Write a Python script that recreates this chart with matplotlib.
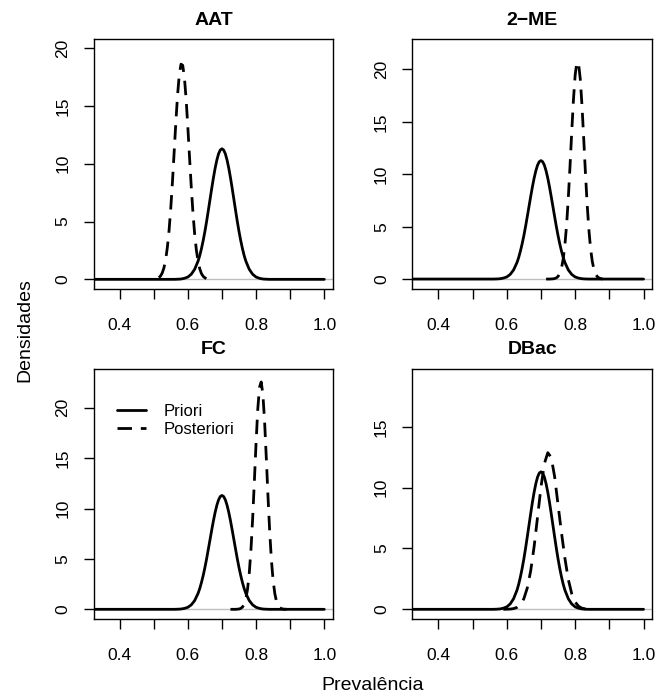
import matplotlib
matplotlib.use('Agg')
import matplotlib.pyplot as plt

plt.rcParams['font.family'] = ['Liberation Sans', 'DejaVu Sans']

# === Data ===

titles = ['AAT', '2\u2212ME', 'FC', 'DBac']

# prior density (same in every panel)
prior_x = [0.30, 0.40, 0.50, 0.55, 0.56, 0.57, 0.58, 0.59, 0.60, 0.61, 0.62, 0.63,
           0.635, 0.64, 0.645, 0.65, 0.655, 0.66, 0.665, 0.67, 0.675, 0.68, 0.685,
           0.69, 0.695, 0.70, 0.705, 0.71, 0.715, 0.72, 0.725, 0.73, 0.735, 0.74,
           0.745, 0.75, 0.755, 0.76, 0.765, 0.77, 0.78, 0.79, 0.80, 0.81, 0.82,
           0.83, 0.84, 0.85, 0.90, 1.00]
prior_y = [0.00, 0.00, 0.00, 0.00, 0.00, 0.01, 0.03, 0.09, 0.20, 0.44, 0.87, 1.58,
           2.07, 2.67, 3.36, 4.14, 5.01, 5.95, 6.91, 7.87, 8.79, 9.62, 10.32,
           10.86, 11.19, 11.30, 11.19, 10.86, 10.32, 9.62, 8.79, 7.87, 6.91, 5.95,
           5.01, 4.14, 3.36, 2.67, 2.07, 1.58, 0.87, 0.44, 0.20, 0.09, 0.03,
           0.01, 0.00, 0.00, 0.00, 0.00]

# posterior densities
aat_x = [0.515, 0.520, 0.525, 0.530, 0.535, 0.540, 0.545, 0.550, 0.555, 0.560,
         0.565, 0.570, 0.575, 0.580, 0.585, 0.590, 0.595, 0.600, 0.605, 0.610,
         0.615, 0.620, 0.625, 0.630, 0.635, 0.640, 0.645, 0.650, 0.655, 0.660,
         0.665, 0.670]
aat_y = [0.15, 0.29, 0.56, 1.00, 1.71, 2.78, 4.25, 6.18, 8.50, 11.08,
         13.68, 16.00, 17.74, 18.62, 18.52, 17.45, 15.58, 13.17, 10.55, 8.01,
         5.76, 3.92, 2.53, 1.55, 0.90, 0.49, 0.26, 0.13, 0.06, 0.02,
         0.01, 0.00]

me_x = [0.715, 0.725, 0.735, 0.740, 0.745, 0.750, 0.755, 0.760, 0.765, 0.770,
        0.775, 0.780, 0.785, 0.790, 0.795, 0.800, 0.805, 0.810, 0.815, 0.820,
        0.825, 0.830, 0.835, 0.840, 0.845, 0.850, 0.855, 0.860, 0.865, 0.870,
        0.875, 0.880]
me_y = [0.00, 0.00, 0.02, 0.05, 0.11, 0.25, 0.53, 1.04, 1.90, 3.25,
        5.19, 7.74, 10.79, 14.05, 17.11, 19.46, 20.69, 20.55, 19.07, 16.54,
        13.40, 10.15, 7.18, 4.75, 2.93, 1.69, 0.91, 0.46, 0.22, 0.10,
        0.04, 0.00]

fc_x = [0.725, 0.740, 0.750, 0.755, 0.760, 0.765, 0.770, 0.775, 0.780, 0.785,
        0.790, 0.795, 0.800, 0.805, 0.810, 0.815, 0.820, 0.825, 0.830, 0.835,
        0.840, 0.845, 0.850, 0.855, 0.860, 0.865, 0.870, 0.875, 0.880, 0.890]
fc_y = [0.00, 0.00, 0.03, 0.09, 0.22, 0.49, 1.03, 2.00, 3.57, 5.91,
        9.02, 12.70, 16.53, 19.86, 22.03, 22.56, 21.34, 18.63, 15.02, 11.18,
        7.68, 4.87, 2.86, 1.55, 0.77, 0.36, 0.15, 0.06, 0.02, 0.00]

dbac_x = [0.59, 0.60, 0.61, 0.62, 0.63, 0.64, 0.65, 0.66, 0.67, 0.68, 0.69,
          0.70, 0.71, 0.72, 0.73, 0.74, 0.75, 0.76, 0.77, 0.78, 0.79, 0.80,
          0.81, 0.82, 0.83]
dbac_y = [0.00, 0.01, 0.02, 0.06, 0.16, 0.39, 0.87, 1.75, 3.16, 5.15, 7.57,
          10.03, 11.97, 12.87, 12.48, 10.90, 8.58, 6.30, 4.20, 2.45, 1.28, 0.60,
          0.25, 0.09, 0.03]

post_x = [aat_x, me_x, fc_x, dbac_x]
post_y = [aat_y, me_y, fc_y, dbac_y]

y_ticks = [[0, 5, 10, 15, 20], [0, 5, 10, 15, 20], [0, 5, 10, 15, 20], [0, 5, 10, 15]]
y_lims = [(-0.81, 20.8), (-0.92, 22.9), (-0.93, 23.85), (-0.77, 19.75)]

x_ticks = [0.4, 0.5, 0.6, 0.7, 0.8, 0.9, 1.0]
x_ticklabels = ['0.4', '', '0.6', '', '0.8', '', '1.0']

# === Figure ===

fig = plt.figure(figsize=(6.57, 6.95), dpi=100)

# panel boxes in figure fractions (left, bottom, width, height)
boxes = [(0.1426, 0.5846, 0.3645, 0.3593), (0.6276, 0.5846, 0.3655, 0.3593),
         (0.1426, 0.1098, 0.3645, 0.3593), (0.6276, 0.1098, 0.3655, 0.3593)]

dash = (5.2, 3.2)

for i in range(4):
    ax = fig.add_axes(boxes[i])
    ax.axhline(0, color='#BEBEBE', lw=1.0, zorder=1)
    ax.plot(prior_x, prior_y, color='black', lw=2.0, zorder=3,
            solid_capstyle='round', label='Priori')
    ax.plot(post_x[i], post_y[i], color='black', lw=2.0, zorder=3,
            dashes=dash, label='Posteriori')

    ax.set_xlim(0.324, 1.026)
    ax.set_ylim(*y_lims[i])
    ax.set_xticks(x_ticks)
    ax.set_xticklabels(x_ticklabels)
    ax.set_yticks(y_ticks[i])
    ax.set_yticklabels([str(v) for v in y_ticks[i]])
    plt.setp(ax.get_yticklabels(), rotation=90, va='center')

    ax.tick_params(direction='out', length=7.3, width=1.0, labelsize=12.5)
    ax.tick_params(axis='x', pad=13.5)
    ax.tick_params(axis='y', pad=9.5)
    for sp in ax.spines.values():
        sp.set_linewidth(1.0)

    ax.text(0.5, 1.076, titles[i], transform=ax.transAxes, ha='center',
            va='center', fontsize=14, fontweight='bold')

    if i == 2:
        ax.legend(loc='upper left', bbox_to_anchor=(0.096, 0.86), frameon=False,
                  fontsize=12, handlelength=1.75, handletextpad=1.05,
                  labelspacing=0.2, borderaxespad=0.0, borderpad=0.0)

fig.text(0.567, 0.013, 'Prevalência', ha='center', va='center', fontsize=14)
fig.text(0.038, 0.525, 'Densidades', ha='center', va='center', fontsize=14,
         rotation=90)

fig.savefig('out.png', dpi=100)
